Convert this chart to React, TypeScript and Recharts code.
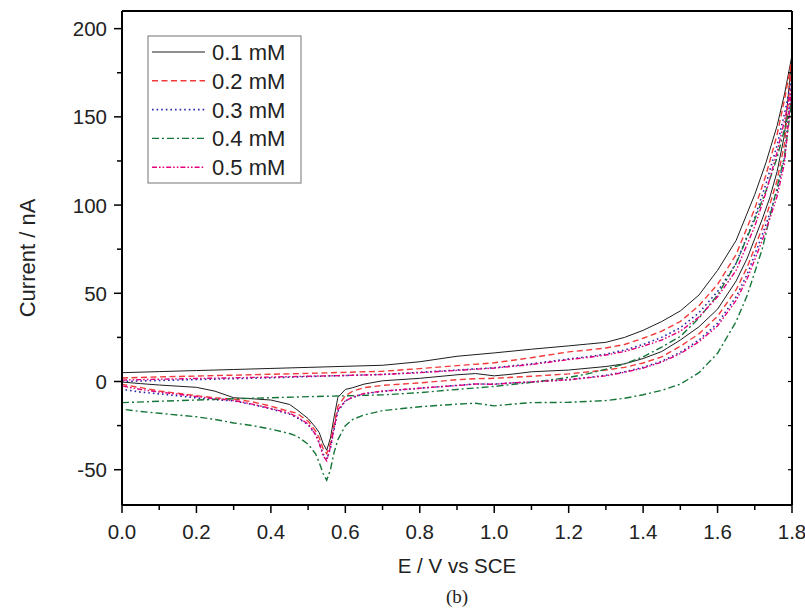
import React from "react";
import { LineChart, Line, XAxis, YAxis, Label } from "recharts";

// potential grid, forward scan (0 -> 1.8 V) and reverse scan (1.8 -> 0 V)
const E_FWD = [0, 0.1, 0.2, 0.3, 0.4, 0.5, 0.6, 0.7, 0.8, 0.9, 1.0, 1.1, 1.2, 1.25, 1.3, 1.35, 1.4, 1.45, 1.5, 1.55, 1.6, 1.65, 1.7, 1.73, 1.76, 1.78, 1.8];
const E_REV = [1.8, 1.78, 1.76, 1.74, 1.72, 1.7, 1.68, 1.65, 1.6, 1.55, 1.5, 1.45, 1.4, 1.35, 1.3, 1.2, 1.1, 1.05, 1.0, 0.95, 0.9, 0.8, 0.7, 0.65, 0.62, 0.6, 0.58, 0.57, 0.56, 0.55, 0.54, 0.53, 0.52, 0.5, 0.47, 0.45, 0.4, 0.35, 0.3, 0.25, 0.2, 0.1, 0.05, 0];

// current (nA)
const I01_FWD = [5.0, 5.6, 6.2, 6.8, 7.4, 8.0, 8.6, 9.2, 11.2, 14.3, 16.2, 18.3, 20.2, 21.2, 22.2, 25.0, 29.0, 34.0, 40.0, 49.0, 63.0, 80.0, 106, 124, 145, 163, 185];
const I01_REV = [185, 140, 119, 104, 92, 81, 70, 57, 41, 31, 23.5, 17, 13, 10, 8.5, 6.5, 5.5, 4.2, 3.2, 4.5, 3.8, 1.8, 0.4, -1.5, -3.5, -4.5, -9, -20, -32, -39, -35, -29, -26, -21, -16, -13, -10.5, -9.8, -9.2, -5.5, -3.3, -2, -1.2, -0.3];

const I02_FWD = [2.0, 2.6, 3.1, 3.6, 4.1, 4.6, 5.2, 5.8, 7.3, 9.0, 10.6, 13.5, 16.8, 17.8, 19.0, 21.0, 24.5, 28.5, 34.0, 43.0, 55.0, 72.0, 98, 117, 140, 160, 183];
const I02_REV = [183, 135, 114, 100, 87, 76, 65, 52, 37, 27, 20, 14, 10.5, 8, 6.5, 4.3, 3.0, 2.4, 1.8, 1.6, 1.0, -0.8, -2.2, -3.5, -5.5, -8, -14, -24, -35, -41, -38, -32, -28, -22.5, -18, -17, -14, -11.5, -10, -9.3, -8, -5.4, -3.5, -1.6];

const I03_FWD = [0.0, 0.6, 1.1, 1.6, 2.1, 2.8, 3.4, 4.0, 5.2, 6.5, 7.8, 10.0, 12.8, 14.0, 15.5, 17.8, 21.0, 25.0, 30.5, 39.0, 51.0, 67.0, 93, 112, 134, 152, 172];
const I03_REV = [172, 127, 108, 95, 83, 72, 61, 48, 33, 23.5, 16.5, 11.5, 8, 5.5, 3.5, 1.0, -0.3, -0.8, -1.5, -1.4, -2.2, -3.8, -5.6, -7, -9, -11, -17, -27, -38, -44, -41, -35, -30, -24.5, -20.5, -18.5, -15.5, -13, -11, -10.3, -9.3, -7, -6, -4.4];

const I04_FWD = [-12, -11.2, -10.5, -9.8, -9.2, -8.6, -8.1, -7.6, -6.3, -4.5, -2.8, -0.5, 2.3, 4.3, 7.0, 10.0, 14.0, 19.5, 25.5, 36.0, 49.0, 67.0, 92, 108, 127, 143, 160];
const I04_REV = [160, 128, 110, 93, 75, 62, 49, 34, 16, 5, -1.5, -5, -7.5, -9.5, -10.8, -11.8, -12, -12.8, -13.8, -12.3, -12.8, -14.3, -16.5, -19, -21.5, -25, -33, -40, -50, -56, -52, -46, -41, -35.5, -31, -29.5, -27, -25, -23.5, -21.5, -20, -18, -17, -15.7];

const I05_FWD = [0.8, 1.3, 1.7, 2.1, 2.5, 3.0, 3.4, 4.0, 5.0, 6.3, 7.6, 9.6, 12.4, 13.6, 15.0, 17.0, 20.0, 23.5, 28.5, 36.5, 48.0, 63.0, 88, 107, 130, 148, 168];
const I05_REV = [168, 124, 105, 92, 80, 69, 58.5, 46, 31.5, 22.5, 15.8, 11, 7.6, 5.2, 3.2, 1.0, -0.2, -0.7, -1.6, -1.4, -2.3, -3.8, -5.4, -6.8, -8.8, -11, -16, -26, -37, -45, -42, -35, -30, -24, -20, -18, -15.3, -12.8, -10.8, -9.8, -8.5, -6, -4.5, -2.5];

const X_MAJOR = [0, 0.2, 0.4, 0.6, 0.8, 1.0, 1.2, 1.4, 1.6, 1.8];
const X_ALL = [0, 0.1, 0.2, 0.3, 0.4, 0.5, 0.6, 0.7, 0.8, 0.9, 1.0, 1.1, 1.2, 1.3, 1.4, 1.5, 1.6, 1.7, 1.8];
const Y_MAJOR = [-50, 0, 50, 100, 150, 200];
const Y_ALL = [-50, -25, 0, 25, 50, 75, 100, 125, 150, 175, 200];

const FONT = "'Liberation Sans', Arial, Helvetica, sans-serif";

const loop = (fwd: number[], rev: number[]) => [
  ...E_FWD.map((e, k) => ({ e, i: fwd[k] })),
  ...E_REV.map((e, k) => ({ e, i: rev[k] })),
];

const SERIES = [
  { name: "0.1 mM", data: loop(I01_FWD, I01_REV), color: "#1e1e1e", dash: undefined, w: 1 },
  { name: "0.2 mM", data: loop(I02_FWD, I02_REV), color: "#f23a3a", dash: "6 3.5", w: 1.4 },
  { name: "0.3 mM", data: loop(I03_FWD, I03_REV), color: "#2a2aa8", dash: "1.6 3", w: 1.6 },
  { name: "0.4 mM", data: loop(I04_FWD, I04_REV), color: "#16763a", dash: "7 3 2 3", w: 1.4 },
  { name: "0.5 mM", data: loop(I05_FWD, I05_REV), color: "#e4007c", dash: "5 2 1.6 2 1.6 2", w: 1.4 },
];

const isMajor = (list: number[], v: number) => list.some((m) => Math.abs(m - v) < 1e-6);

const BottomTick = ({ x, y, payload }: any) => {
  const major = isMajor(X_MAJOR, payload.value);
  return (
    <g>
      <line x1={x} x2={x} y1={y} y2={y + (major ? 8 : 5)} stroke="#000" strokeWidth={1.5} />
      {major && (
        <text x={x} y={y + 34} textAnchor="middle" fontSize={20.5} fill="#222" fontFamily={FONT}>
          {Number(payload.value).toFixed(1)}
        </text>
      )}
    </g>
  );
};

const LeftTick = ({ x, y, payload }: any) => {
  const major = isMajor(Y_MAJOR, payload.value);
  return (
    <g>
      <line x1={x} x2={x - (major ? 8 : 5)} y1={y} y2={y} stroke="#000" strokeWidth={1.5} />
      {major && (
        <text x={x - 15} y={y + 7.5} textAnchor="end" fontSize={20.5} fill="#222" fontFamily={FONT}>
          {payload.value}
        </text>
      )}
    </g>
  );
};

const TopTick = ({ x, y }: any) => (
  <line x1={x} x2={x} y1={y} y2={y + 4} stroke="#000" strokeWidth={1.2} />
);

const RightTick = ({ x, y }: any) => (
  <line x1={x} x2={x - 4} y1={y} y2={y} stroke="#000" strokeWidth={1.2} />
);

const ChartLegend = () => (
  <svg
    width={155}
    height={149}
    style={{ position: "absolute", left: 147, top: 35 }}
  >
    <rect x={1} y={1} width={153} height={147} fill="none" stroke="#8a8a8a" strokeWidth={1.2} />
    {SERIES.map((s, k) => {
      const cy = 17 + k * 28.8;
      return (
        <g key={s.name}>
          <line x1={5} x2={58} y1={cy} y2={cy} stroke={s.color} strokeWidth={s.w} strokeDasharray={s.dash} />
          <text x={65} y={cy + 8} fontSize={22} fill="#222" fontFamily={FONT}>
            {s.name}
          </text>
        </g>
      );
    })}
  </svg>
);

export default function App() {
  return (
    <div style={{ position: "absolute", left: 0, top: 0, width: 805, height: 616, background: "#fff" }}>
      <LineChart width={805} height={616} margin={{ top: 0, right: 0, bottom: 0, left: 0 }}>
        <XAxis
          xAxisId="x"
          dataKey="e"
          type="number"
          domain={[0, 1.8]}
          allowDataOverflow
          ticks={X_ALL}
          interval={0}
          height={111}
          tickSize={0}
          tickMargin={0}
          tickLine={false}
          tick={<BottomTick />}
          axisLine={{ stroke: "#000", strokeWidth: 2 }}
        >
          <Label
            content={({ viewBox }: any) => (
              <g>
                <text x={viewBox.x + viewBox.width / 2} y={viewBox.y + 68} textAnchor="middle" fontSize={20.5} fill="#222" fontFamily={FONT}>
                  E / V vs SCE
                </text>
                <text x={viewBox.x + viewBox.width / 2} y={viewBox.y + 98} textAnchor="middle" fontSize={19} fill="#222" fontFamily="'Liberation Serif', 'Times New Roman', serif">
                  (b)
                </text>
              </g>
            )}
          />
        </XAxis>
        <XAxis
          xAxisId="xt"
          orientation="top"
          type="number"
          domain={[0, 1.8]}
          allowDataOverflow
          ticks={X_ALL}
          interval={0}
          height={11}
          tickSize={0}
          tickMargin={0}
          tickLine={false}
          tick={<TopTick />}
          axisLine={{ stroke: "#000", strokeWidth: 2 }}
        />
        <YAxis
          yAxisId="y"
          type="number"
          domain={[-70, 210]}
          allowDataOverflow
          ticks={Y_ALL}
          interval={0}
          width={122}
          tickSize={0}
          tickMargin={0}
          tickLine={false}
          tick={<LeftTick />}
          axisLine={{ stroke: "#000", strokeWidth: 2 }}
        >
          <Label
            content={({ viewBox }: any) => {
              const cx = 27;
              const cy = viewBox.y + viewBox.height / 2;
              return (
                <text x={cx} y={cy} transform={`rotate(-90, ${cx}, ${cy})`} textAnchor="middle" dominantBaseline="central" fontSize={22} fill="#222" fontFamily={FONT}>
                  Current / nA
                </text>
              );
            }}
          />
        </YAxis>
        <YAxis
          yAxisId="yr"
          orientation="right"
          type="number"
          domain={[-70, 210]}
          allowDataOverflow
          ticks={Y_ALL}
          interval={0}
          width={13}
          tickSize={0}
          tickMargin={0}
          tickLine={false}
          tick={<RightTick />}
          axisLine={{ stroke: "#000", strokeWidth: 2 }}
        />
        {SERIES.map((s) => (
          <Line
            key={s.name}
            xAxisId="x"
            yAxisId="y"
            data={s.data}
            dataKey="i"
            name={s.name}
            type="linear"
            stroke={s.color}
            strokeWidth={s.w}
            strokeDasharray={s.dash}
            dot={false}
            activeDot={false}
            isAnimationActive={false}
          />
        ))}
      </LineChart>
      <ChartLegend />
    </div>
  );
}
